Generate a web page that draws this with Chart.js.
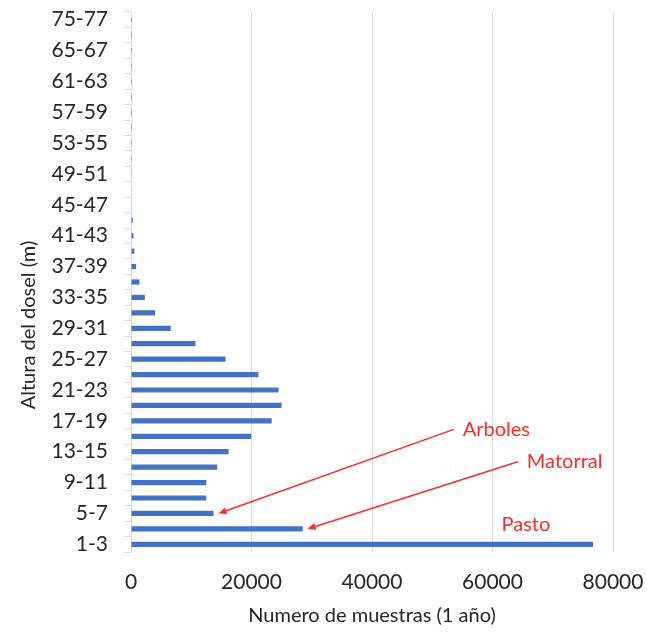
<!DOCTYPE html>
<html>
<head>
<meta charset="utf-8">
<title>Altura del dosel</title>
<script src="https://cdn.jsdelivr.net/npm/chart.js@4.4.1/dist/chart.umd.min.js"></script>
<style>
  html, body { margin: 0; padding: 0; background: #ffffff; }
  #wrap { width: 647px; height: 634px; position: relative; }
</style>
</head>
<body>
<div id="wrap"><canvas id="chart" width="647" height="634"></canvas></div>
<script>
// Canopy height classes (m), bottom to top
const categories = [
  '1-3', '3-5', '5-7', '7-9', '9-11', '11-13', '13-15', '15-17', '17-19',
  '19-21', '21-23', '23-25', '25-27', '27-29', '29-31', '31-33', '33-35',
  '35-37', '37-39', '39-41', '41-43', '43-45', '45-47', '47-49', '49-51',
  '51-53', '53-55', '55-57', '57-59', '59-61', '61-63', '63-65', '65-67',
  '67-69', '75-77'
];

// Number of samples per class over one year
const samples = [
  76700, 28500, 13700, 12500, 12500, 14300, 16200, 19950, 23350,
  25000, 24500, 21150, 15700, 10700, 6600, 4000, 2300,
  1400, 850, 550, 400, 300, 100, 60, 40,
  30, 20, 20, 10, 10, 10, 10, 10,
  5, 5
];

// Value axis ticks
const xTicks = [0, 20000, 40000, 60000, 80000];

// Vegetation notes: text, anchor (value, class position), target class
const noteText   = ['Arboles', 'Matorral', 'Pasto'];
const noteValue  = [55050, 65700, 61500];
const notePos    = [7.45, 5.35, 1.25];
const noteTarget = ['5-7', '3-5', null];

const FONT = 'Lato, "Open Sans", "Noto Sans", sans-serif';
const GRID = '#d9d9d9';
const TEXT = '#262626';
const RED = '#ff2a2a';

// Rotated title for the class axis
const yTitlePlugin = {
  id: 'yTitle',
  afterDraw(chart) {
    const ctx = chart.ctx;
    ctx.save();
    ctx.translate(29, 325);
    ctx.rotate(-Math.PI / 2);
    ctx.font = '20px ' + FONT;
    ctx.fillStyle = TEXT;
    ctx.textAlign = 'center';
    ctx.textBaseline = 'middle';
    ctx.fillText('Altura del dosel (m)', 0, 0);
    ctx.restore();
  }
};

// Red labels with arrows pointing to bar ends
const notesPlugin = {
  id: 'notes',
  afterDatasetsDraw(chart) {
    const ctx = chart.ctx;
    const xs = chart.scales.x, ys = chart.scales.y;
    ctx.save();
    ctx.font = '20px ' + FONT;
    ctx.fillStyle = RED;
    ctx.strokeStyle = RED;
    ctx.lineWidth = 1.5;
    ctx.textAlign = 'left';
    ctx.textBaseline = 'middle';
    noteText.forEach((t, i) => {
      const tx = xs.getPixelForValue(noteValue[i]);
      const ty = ys.getPixelForValue(notePos[i]);
      ctx.fillText(t, tx, ty);
      if (noteTarget[i] === null) return;
      const k = categories.indexOf(noteTarget[i]);
      const ex = xs.getPixelForValue(samples[k]) + 5;
      const ey = ys.getPixelForValue(k);
      const sx = tx - 9, sy = ty;
      const ang = Math.atan2(ey - sy, ex - sx);
      const head = 8, hw = 3.5;
      const bx = ex - head * Math.cos(ang), by = ey - head * Math.sin(ang);
      ctx.beginPath();
      ctx.moveTo(sx, sy);
      ctx.lineTo(bx, by);
      ctx.stroke();
      ctx.beginPath();
      ctx.moveTo(ex, ey);
      ctx.lineTo(bx - hw * Math.sin(ang), by + hw * Math.cos(ang));
      ctx.lineTo(bx + hw * Math.sin(ang), by - hw * Math.cos(ang));
      ctx.closePath();
      ctx.fill();
    });
    ctx.restore();
  }
};

new Chart(document.getElementById('chart'), {
  type: 'bar',
  data: {
    labels: categories,
    datasets: [{
      data: samples,
      backgroundColor: '#4472c4',
      borderWidth: 0,
      barPercentage: 0.34,
      categoryPercentage: 1.0
    }]
  },
  options: {
    indexAxis: 'y',
    responsive: false,
    animation: false,
    devicePixelRatio: 1,
    layout: { padding: { top: 12, right: 34, left: 0, bottom: 0 } },
    plugins: { legend: { display: false }, tooltip: { enabled: false } },
    scales: {
      x: {
        min: 0,
        max: 80000,
        afterBuildTicks(scale) { scale.ticks = xTicks.map(v => ({ value: v })); },
        afterFit(scale) {
          scale.height = 82;
          scale.paddingLeft = 0;
          scale.paddingRight = 0;
        },
        grid: { color: GRID, lineWidth: 1, drawTicks: false },
        border: { display: false },
        ticks: {
          padding: 18,
          color: TEXT,
          font: { family: FONT, size: 21 },
          callback: v => String(v)
        },
        title: {
          display: true,
          text: 'Numero de muestras (1 año)',
          color: TEXT,
          font: { family: FONT, size: 20 },
          padding: { top: 0, bottom: 6 }
        }
      },
      y: {
        reverse: true,
        afterFit(scale) {
          scale.width = 131;
          scale.paddingTop = 0;
          scale.paddingBottom = 0;
        },
        grid: {
          color: GRID,
          drawOnChartArea: false,
          drawTicks: true,
          tickLength: 7,
          offset: true
        },
        border: { display: true, color: GRID, width: 1 },
        ticks: {
          autoSkip: false,
          padding: 16,
          color: TEXT,
          font: { family: FONT, size: 21 },
          callback: function (v, i) { return i % 2 === 0 ? categories[i] : ''; }
        }
      }
    }
  },
  plugins: [yTitlePlugin, notesPlugin]
});
</script>
</body>
</html>
